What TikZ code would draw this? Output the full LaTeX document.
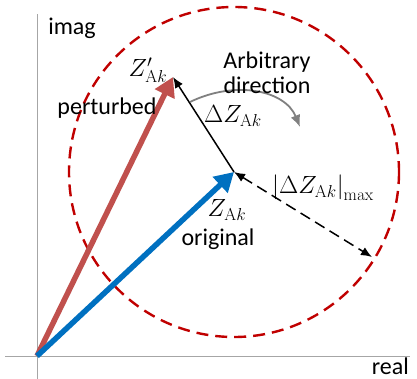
\documentclass[tikz,border=0pt]{standalone}
\usepackage[no-math]{fontspec}
\setmainfont{Carlito}
\usepackage{xcolor}
\usepackage{tikz}
\usetikzlibrary{arrows.meta}

\definecolor{pertred}{RGB}{192,80,77}
\definecolor{origblue}{RGB}{0,112,192}
\definecolor{circred}{RGB}{192,0,0}

\begin{document}
\begin{tikzpicture}[
  x=1pt, y=-1pt,
  every node/.style={font=\fontsize{24}{25}\selectfont, inner sep=0pt},
  mathlabel/.style={font=\fontsize{26}{27}\selectfont},
  axis/.style={draw=gray!70, line width=0.9pt},
  bigarrow/.style={line width=5.5pt, -{Triangle[length=19pt,width=21pt]}},
  deltaarrow/.style={line width=1.5pt, -{Latex[length=11pt,width=9pt]}},
  maxarrow/.style={line width=1.5pt, dash pattern=on 11pt off 6pt,
    {Latex[length=11pt,width=9pt]}-{Latex[length=11pt,width=9pt]}},
  turnarrow/.style={draw=gray, line width=1.8pt, -{Latex[length=12pt,width=10pt]}}
]
\useasboundingbox (0,0) rectangle (417,379);
% points
\coordinate (O) at (37,356);
\coordinate (Z) at (234,172);
\coordinate (Zp) at (173,77);
\coordinate (rim) at (372,257);
\coordinate (ytop) at (37,14);
\coordinate (ybot) at (37,379);
\coordinate (xleft) at (5,356);
\coordinate (xright) at (410,356);
\coordinate (turnA) at (190,102);
\coordinate (turnB) at (300,127);
% axes
\draw[axis] (ybot) -- (ytop);
\draw[axis] (xleft) -- (xright);
\node (imag) at (72,28) {imag};
\node[anchor=east] (real) at (409,366) {real};
% perturbation circle
\draw[circred, line width=2.4pt, dash pattern=on 12pt off 7pt] (Z) circle[radius=165];
% vectors
\draw[bigarrow, pertred] (O) -- (Zp);
\draw[bigarrow, origblue] (O) -- (Z);
\draw[deltaarrow] (Z) -- (Zp);
\draw[maxarrow] (Z) -- (rim);
\draw[turnarrow] (turnA) .. controls (235,80) and (285,90) .. (turnB);
% labels
\node[mathlabel] (zp) at (148,70) {$Z'_{\mathrm{A}k}$};
\node[align=center] (arb) at (267,73) {Arbitrary\\direction};
\node (pert) at (107,108) {perturbed};
\node[mathlabel] (dz) at (233,116) {$\Delta Z_{\mathrm{A}k}$};
\node[mathlabel] (dzmax) at (323,188) {$\bigl|\Delta Z_{\mathrm{A}k}\bigr|_{\max}$};
\node[mathlabel] (zak) at (227,210) {$Z_{\mathrm{A}k}$};
\node (orig) at (218,239) {original};
\end{tikzpicture}
\end{document}
